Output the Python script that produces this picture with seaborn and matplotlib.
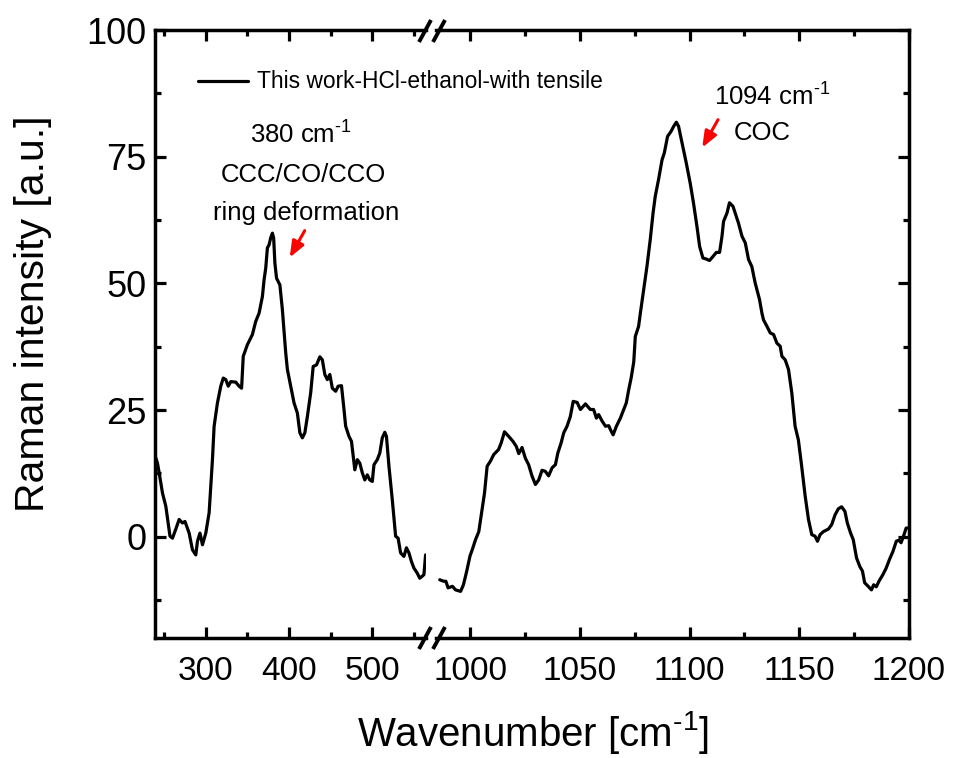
import matplotlib
matplotlib.use("Agg")
import matplotlib.pyplot as plt
from matplotlib.lines import Line2D
import seaborn as sns
import pandas as pd

# Raman spectrum, low-wavenumber window (cm^-1, a.u.)
low_wavenumber = [239, 242, 244, 248, 252, 257, 260, 264, 268, 272, 275, 280, 284, 288, 290, 293,
                  296, 300, 304, 308, 310, 314, 318, 321, 324, 327, 330, 336, 340, 343, 345, 350,
                  356, 360, 364, 368, 370, 372, 374, 376, 378, 380, 381.5, 383, 385, 389, 392, 396,
                  398, 402, 406, 410, 413, 416, 419, 422, 426, 429, 433, 437, 440, 443, 446, 449,
                  452, 456, 459, 463, 466, 468, 472, 475, 479, 482, 485, 488, 491, 494, 497, 500,
                  502, 506, 509, 512, 515, 517, 520, 524, 528, 531, 534, 538, 541, 544, 547, 550,
                  554, 557, 560, 562, 564]
low_intensity = [16.0, 14.5, 12.6, 8.6, 6.0, 0.1, -0.3, 1.5, 3.4, 2.7, 3.0, 0.7, -2.6, -3.6, -0.9, 0.7,
                 -1.6, 0.7, 4.7, 15.2, 21.8, 26.4, 29.7, 31.3, 31.0, 29.7, 30.6, 30.5, 29.7, 29.3, 35.6, 37.9,
                 39.9, 42.5, 44.1, 47.4, 50.7, 53.0, 57.0, 57.6, 59.0, 59.9, 59.0, 54.0, 51.0, 49.7, 44.8, 36.3,
                 33.0, 29.7, 26.4, 24.4, 20.5, 19.5, 20.5, 23.7, 28.4, 33.6, 33.9, 35.5, 34.9, 32.0, 31.0, 32.0,
                 29.3, 28.7, 29.7, 29.8, 25.1, 21.8, 19.8, 18.8, 13.2, 15.2, 14.5, 12.6, 11.2, 12.2, 11.2, 10.9,
                 14.2, 15.2, 16.5, 19.5, 20.6, 19.8, 13.9, 7.3, 0.1, -0.3, -3.2, -3.9, -2.2, -3.2, -4.9, -6.2,
                 -7.2, -8.2, -7.8, -7.5, -3.6]

# Raman spectrum, high-wavenumber window (cm^-1, a.u.)
high_wavenumber = [986.2, 988, 989, 990, 992, 993.4, 995.7, 997, 998.5, 1000, 1001, 1002.5, 1004, 1005.5,
                   1006.6, 1007.8, 1009.3, 1010.8, 1013, 1014.2, 1015.7, 1017.6, 1019.6, 1021.1, 1022.2,
                   1023.7, 1025.2, 1026.7, 1028.3, 1029.8, 1031.3, 1032.8, 1034.3, 1035.8, 1037.4, 1038.9,
                   1040, 1041.5, 1042.7, 1044.2, 1045.7, 1047, 1048.8, 1050.3, 1052.6, 1054.8, 1056.3,
                   1057.6, 1058.6, 1060.2, 1061.7, 1063.2, 1064, 1065.2, 1066.7, 1068.5, 1070, 1071.2,
                   1072.3, 1073.4, 1074.6, 1075.3, 1076.8, 1077.6, 1079.1, 1080.6, 1082.1, 1083.4, 1084.4,
                   1085.9, 1087.5, 1088.5, 1090, 1091.6, 1092.8, 1094, 1095, 1096.6, 1098.5, 1100.3,
                   1101.8, 1103.4, 1104.6, 1106.1, 1107.6, 1109.1, 1110.7, 1112.2, 1113.7, 1114.8, 1115.5,
                   1117.1, 1118.2, 1119.8, 1120.8, 1122.3, 1123.9, 1125.4, 1126.9, 1128.4, 1129.9, 1131.9,
                   1133, 1133.7, 1135.3, 1136.8, 1138.3, 1139.8, 1141.3, 1142.1, 1143.6, 1145.1, 1146.6,
                   1148.1, 1149.6, 1151.1, 1152.7, 1154.2, 1155.7, 1157.2, 1158.3, 1159.5, 1161, 1163.3,
                   1164.8, 1166.3, 1167.8, 1169.3, 1170.8, 1171.9, 1173.4, 1174.6, 1176.1, 1177.6, 1178.8,
                   1179.8, 1181.4, 1182.9, 1183.9, 1185.1, 1186.3, 1188.1, 1189.6, 1191.1, 1192.7, 1194.2,
                   1195.4, 1196.4, 1197.5, 1198.7, 1200]
high_intensity = [-8.5, -8.8, -8.8, -10.1, -9.8, -10.5, -10.8, -9.5, -6.8, -3.8, -2.6, -0.6, 1.0, 5.3,
                  8.6, 13.9, 14.9, 16.2, 17.2, 18.5, 20.7, 19.8, 18.8, 17.8, 16.4,
                  17.6, 15.5, 14.2, 11.9, 10.3, 11.2, 13.1, 12.9, 12.0, 13.6, 14.2,
                  16.5, 18.5, 20.5, 21.8, 23.7, 26.7, 26.5, 25.1, 26.2, 25.1, 25.1,
                  23.4, 24.1, 22.8, 21.8, 21.9, 21.1, 20.1, 21.8, 23.4, 25.1, 26.4,
                  29.0, 31.3, 34.5, 39.5, 41.5, 44.1, 48.7, 53.3, 58.6, 63.9, 67.2,
                  70.5, 74.4, 75.7, 79.0, 80.0, 81.0, 81.8, 81.0, 77.7, 73.8, 69.8,
                  65.9, 61.2, 57.3, 55.0, 54.8, 54.5, 55.3, 56.1, 56.1, 59.3, 62.2,
                  63.9, 65.9, 65.2, 63.9, 61.9, 59.3, 58.0, 54.7, 53.3, 50.1, 46.8,
                  44.1, 42.8, 41.5, 40.2, 39.9, 38.2, 37.6, 35.6, 34.9, 33.0, 28.4,
                  21.8, 19.1, 13.9, 8.0, 3.4, 0.4, 0.1, -0.9, 0.4, 1.0, 1.5,
                  2.4, 4.3, 5.5, 5.9, 5.0, 2.7, 0.7, -0.6, -4.2, -5.9, -6.8,
                  -9.1, -9.8, -10.5, -9.5, -9.9, -8.8, -7.5, -6.2, -4.5, -2.9, -0.9,
                  -0.7, -1.2, 0.1, 1.7, 1.7]

low_major_ticks = [300, 400, 500]
low_minor_ticks = [250, 350, 450, 550]
high_major_ticks = [1000, 1050, 1100, 1150, 1200]
high_minor_ticks = [1025, 1075, 1125, 1175]
y_major_ticks = [0, 25, 50, 75, 100]
y_minor_ticks = [-12.5, 12.5, 37.5, 62.5, 87.5]

series_label = "This work-HCl-ethanol-with tensile"

sns.set_theme(style="ticks")
plt.rcParams["font.family"] = ["Liberation Sans", "DejaVu Sans"]
plt.rcParams["mathtext.fontset"] = "custom"
plt.rcParams["mathtext.rm"] = "Liberation Sans"
plt.rcParams["mathtext.it"] = "Liberation Sans:italic"
plt.rcParams["mathtext.bf"] = "Liberation Sans:bold"
for key in ("text.color", "axes.labelcolor", "xtick.color", "ytick.color", "axes.edgecolor"):
    plt.rcParams[key] = "black"

W, H = 954, 758
fig = plt.figure(figsize=(W / 100, H / 100), dpi=100)
fig.patch.set_facecolor("white")

def fig_box(x0, x1, y0, y1):
    return [x0 / W, 1 - y1 / H, (x1 - x0) / W, (y1 - y0) / H]

ax_lo = fig.add_axes(fig_box(155, 426, 30, 638))
ax_hi = fig.add_axes(fig_box(436, 909, 30, 638))

low_df = pd.DataFrame({"wavenumber": low_wavenumber, "intensity": low_intensity})
high_df = pd.DataFrame({"wavenumber": high_wavenumber, "intensity": high_intensity})

sns.lineplot(data=low_df, x="wavenumber", y="intensity", ax=ax_lo, color="black",
             linewidth=2.3, sort=False, estimator=None, label=series_label)
sns.lineplot(data=high_df, x="wavenumber", y="intensity", ax=ax_hi, color="black",
             linewidth=2.3, sort=False, estimator=None)

ax_lo.set_xlim(239, 564.5)
ax_hi.set_xlim(984.5, 1200)
for ax in (ax_lo, ax_hi):
    ax.set_ylim(-20, 100)
    ax.set_yticks(y_major_ticks)
    ax.set_yticks(y_minor_ticks, minor=True)
    ax.set_xlabel("")
    ax.set_ylabel("")
    for s in ax.spines.values():
        s.set_linewidth(2.5)
        s.set_color("black")
    ax.tick_params(which="both", direction="in", top=True, width=2.3, color="black")
    ax.tick_params(which="major", length=8)
    ax.tick_params(which="minor", length=4)
    ax.tick_params(axis="x", which="major", pad=13, labelsize=24)
    ax.set_facecolor("white")

ax_lo.set_xticks(low_major_ticks)
ax_lo.set_xticks(low_minor_ticks, minor=True)
ax_hi.set_xticks(high_major_ticks)
ax_hi.set_xticks(high_minor_ticks, minor=True)

ax_lo.spines["right"].set_visible(False)
ax_hi.spines["left"].set_visible(False)
ax_lo.tick_params(axis="y", which="both", left=True, right=False, labelsize=26, pad=6)
ax_hi.tick_params(axis="y", which="both", left=False, right=True, labelleft=False)

fig.text(33 / W, 1 - 314 / H, "Raman intensity [a.u.]", fontsize=29.5,
         rotation=90, ha="center", va="center")
fig.text(533 / W, 1 - 733 / H, "Wavenumber [cm$^{\\text{-1}}$]", fontsize=29,
         ha="center", va="center")

# axis-break marks on the top and bottom spines
for yc in (31, 638):
    for xc in (425, 439):
        fig.add_artist(Line2D([(xc - 6) / W, (xc + 6) / W],
                              [1 - (yc + 11) / H, 1 - (yc - 11) / H],
                              transform=fig.transFigure, color="black", linewidth=2.8,
                              solid_capstyle="butt"))

# legend
handles, labels = ax_lo.get_legend_handles_labels()
if ax_lo.legend_ is not None:
    ax_lo.legend_.remove()
fig.legend(handles, labels, loc="center left", bbox_to_anchor=(198 / W, 1 - 82 / H),
           frameon=False, fontsize=16.4, handlelength=2.2, handletextpad=0.4,
           borderpad=0, borderaxespad=0)

# peak annotations
ann = dict(ha="center", va="center", fontsize=18.5, color="black")
arrow_style = dict(arrowstyle="-|>,head_length=0.8,head_width=0.32",
                   color="red", lw=2.2, shrinkA=0, shrinkB=0)
ax_lo.text(414, 79.3, "380 cm$^{\\text{-1}}$", **ann)
ax_lo.text(417.6, 71.4, "CCC/CO/CCO", **ann)
ax_lo.text(421, 63.9, "ring deformation", **ann)
ax_lo.annotate("", xy=(400.8, 55.1), xytext=(418.8, 60.4), arrowprops=arrow_style)

ax_hi.text(1137.7, 86.8, "1094 cm$^{\\text{-1}}$", **ann)
ax_hi.text(1133, 79.7, "COC", **ann)
ax_hi.annotate("", xy=(1105.8, 76.8), xytext=(1113, 82.3), arrowprops=arrow_style)

fig.savefig("out.png", dpi=100, facecolor="white")
